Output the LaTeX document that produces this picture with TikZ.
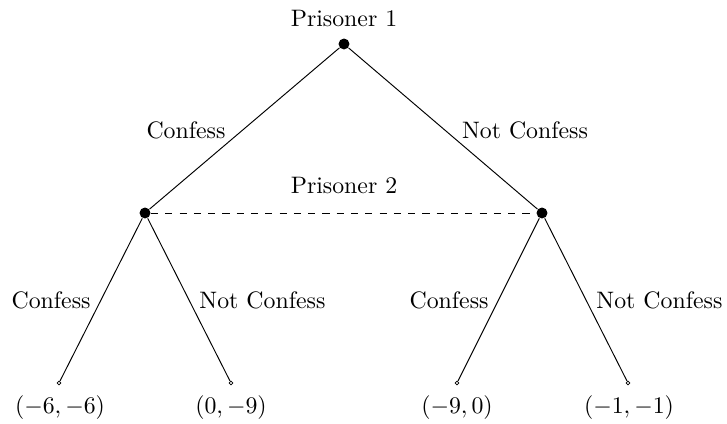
\documentclass[tikz,border=0pt]{standalone}
\begin{document}
\begin{tikzpicture}[x=0.42pt,y=-0.42pt,
  dec/.style={circle,fill=black,inner sep=0pt,minimum size=4.6pt},
  leaf/.style={circle,draw=black,fill=white,inner sep=0pt,minimum size=1.6pt,line width=0.3pt},
  lbl/.style={inner sep=0pt,font=\normalsize}]
\useasboundingbox (0,0) rectangle (727,424);
\node[dec] (r) at (344,44) {};
\node[dec] (a) at (145,213) {};
\node[dec] (b) at (542,213) {};
\node[leaf] (l1) at (59,383) {};
\node[leaf] (l2) at (231,383) {};
\node[leaf] (l3) at (457,383) {};
\node[leaf] (l4) at (628,383) {};
\draw[line width=0.4pt] (r) -- (a);
\draw[line width=0.4pt] (r) -- (b);
\draw[line width=0.4pt] (a) -- (l1);
\draw[line width=0.4pt] (a) -- (l2);
\draw[line width=0.4pt] (b) -- (l3);
\draw[line width=0.4pt] (b) -- (l4);
\draw[dashed,line width=0.4pt] (a) -- (b);
\node[lbl] (t1) at (344,19) {Prisoner 1};
\node[lbl] (t2) at (344,186) {Prisoner 2};
\node[lbl] (e1) at (186,130) {Confess};
\node[lbl] (e2) at (525,130) {Not Confess};
\node[lbl,anchor=east] (e3) at (91,300) {Confess};
\node[lbl,anchor=west] (e4) at (199,300) {Not Confess};
\node[lbl,anchor=east] (e5) at (489,300) {Confess};
\node[lbl,anchor=west] (e6) at (596,300) {Not Confess};
\node[lbl] (p1) at (60,408) {$(-6,-6)$};
\node[lbl] (p2) at (231,408) {$(0,-9)$};
\node[lbl] (p3) at (457,408) {$(-9,0)$};
\node[lbl] (p4) at (629,408) {$(-1,-1)$};
\end{tikzpicture}
\end{document}
